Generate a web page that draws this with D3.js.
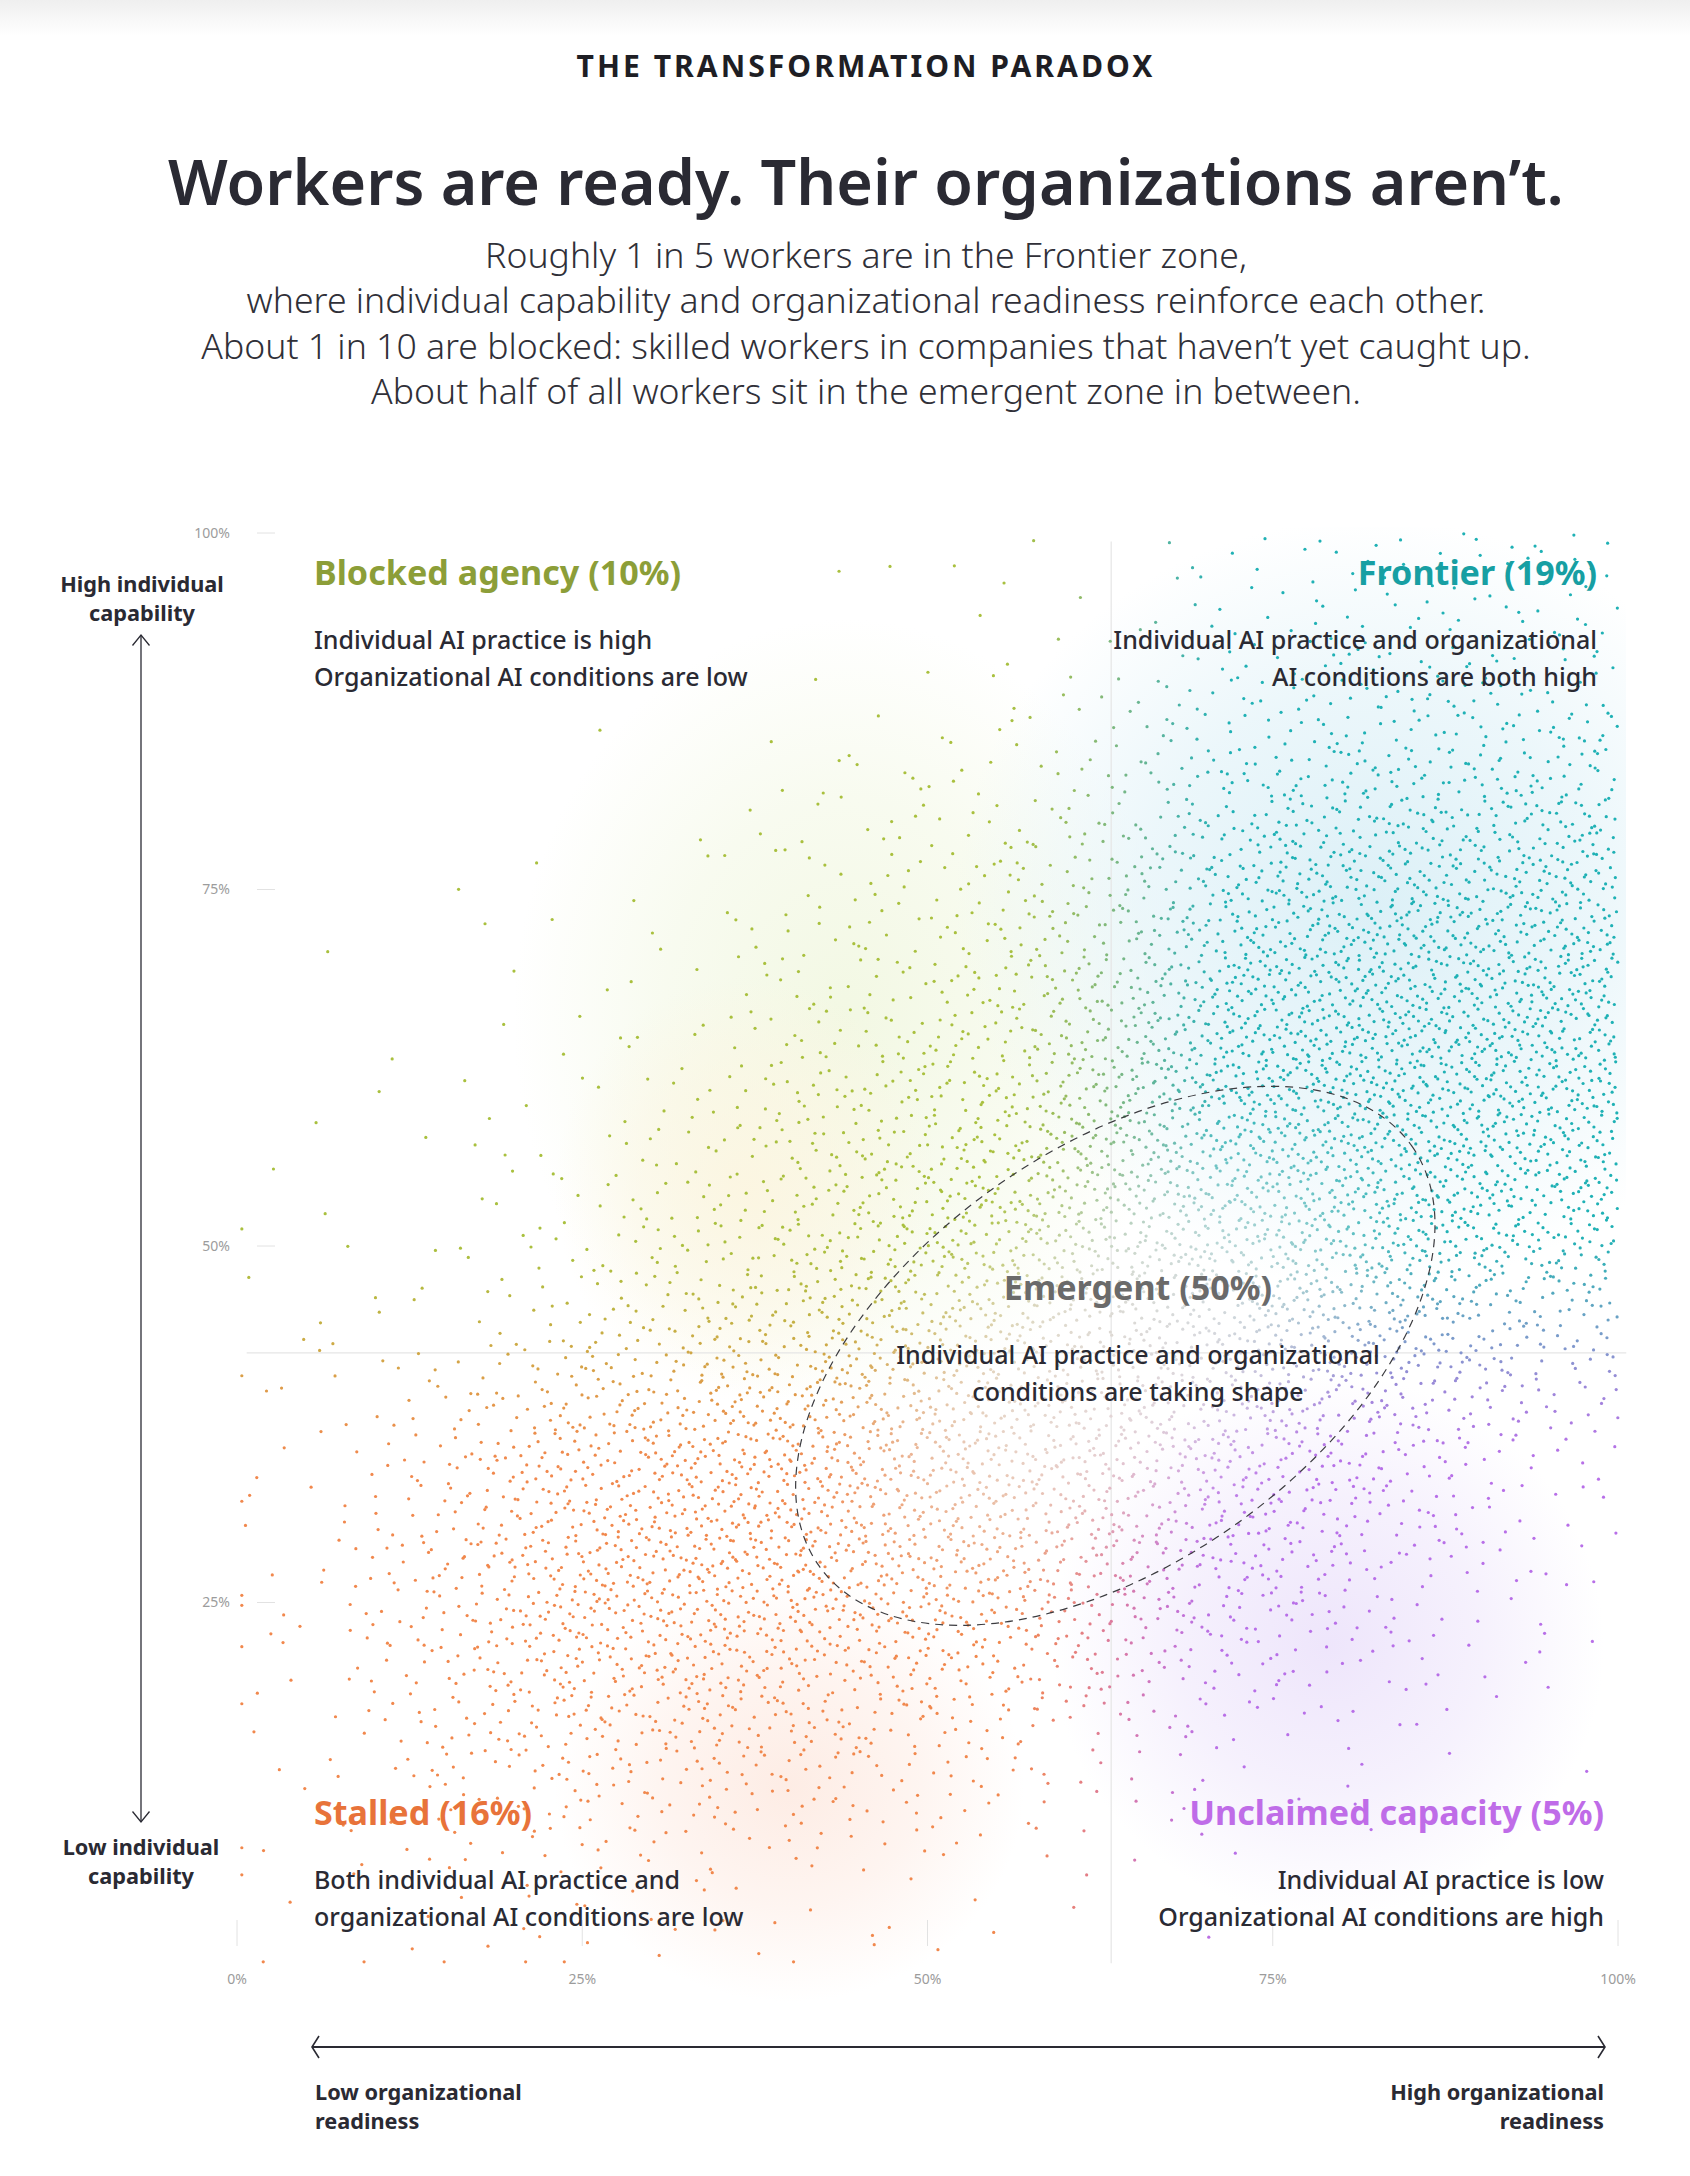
<!DOCTYPE html>
<html>
<head>
<meta charset="utf-8">
<script src="https://cdn.jsdelivr.net/npm/d3@7"></script>
<style>
  html, body { margin: 0; padding: 0; background: #fff; }
  svg { display: block; font-family: "Noto Sans", "Open Sans", sans-serif; }
</style>
</head>
<body>
<div id="chart"></div>
<script>
(function() {

  // ---- data ----
  var kicker = "THE TRANSFORMATION PARADOX";
  var title = "Workers are ready. Their organizations aren\u2019t.";
  var subtitleLines = [
    "Roughly 1 in 5 workers are in the Frontier zone,",
    "where individual capability and organizational readiness reinforce each other.",
    "About 1 in 10 are blocked: skilled workers in companies that haven\u2019t yet caught up.",
    "About half of all workers sit in the emergent zone in between."
  ];

  var xTicks = [0, 25, 50, 75, 100];
  var yTicks = [25, 50, 75, 100];

  // quadrant split (org readiness %, individual capability %)
  var splitX = 63.3, splitY = 42.5;

  var zoneKeys   = ["blocked", "frontier", "emergent", "stalled", "unclaimed"];
  var zoneNames  = ["Blocked agency", "Frontier", "Emergent", "Stalled", "Unclaimed capacity"];
  var zoneShares = [10, 19, 50, 16, 5];
  var zoneNotes  = [
    ["Individual AI practice is high", "Organizational AI conditions are low"],
    ["Individual AI practice and organizational", "AI conditions are both high"],
    ["Individual AI practice and organizational", "conditions are taking shape"],
    ["Both individual AI practice and", "organizational AI conditions are low"],
    ["Individual AI practice is low", "Organizational AI conditions are high"]
  ];

  // emergent zone outline: centre x, centre y, semi-axes (in x-axis points), tilt in degrees
  var emergentOutline = [63.6, 42.3, 26.3, 15.0, 35.3];

  // worker counts per 10% x 10% cell, read from the dot density.
  // one array per capability band (top band first), columns = org readiness 0-10 ... 90-100
  var band90 = [0, 0, 0, 0, 2, 3, 8, 25, 30, 30];
  var band80 = [0, 0, 0, 2, 8, 20, 40, 80, 90, 90];
  var band70 = [0, 2, 4, 10, 30, 55, 95, 190, 210, 200];
  var band60 = [0, 3, 8, 25, 65, 100, 160, 250, 260, 240];
  var band50 = [3, 6, 20, 55, 110, 160, 210, 250, 250, 220];
  var band40 = [4, 15, 55, 105, 155, 185, 200, 210, 185, 105];
  var band30 = [10, 60, 155, 205, 205, 200, 180, 150, 95, 28];
  var band20 = [12, 85, 195, 215, 195, 165, 125, 95, 45, 10];
  var band10 = [8, 55, 100, 100, 80, 45, 25, 15, 5, 1];
  var band00 = [4, 10, 15, 12, 8, 3, 2, 0, 0, 0];
  var grid = [band90, band80, band70, band60, band50, band40, band30, band20, band10, band00];

  // workers pinned on the plot edges (individual dots)
  var leftEdgeY   = [51.2, 40.9, 32.1, 25.5, 24.8, 21.9, 17.9, 7.8, 5.9];
  var bottomEdgeX = [1.9, 9.2, 15.0, 20.9, 23.7, 40.3];

  // ---- layout ----
  var W = 1690, H = 2176;
  var cx = 866;

  var dotColors = { blocked: "#a9c03e", frontier: "#1fb1b5", stalled: "#f1884d", unclaimed: "#b86fe8" };
  var labelColors = { blocked: "#8c9e38", frontier: "#179fa3", emergent: "#6a6a6a", stalled: "#e8733a", unclaimed: "#bf6ce8" };
  var ink = "#2a2a33";

  var svg = d3.select("#chart")
    .append("svg")
    .attr("width", W)
    .attr("height", H);

  var x = d3.scaleLinear().domain([0, 100]).range([237, 1618]);
  var y = d3.scaleLinear().domain([0, 100]).range([1959, 533]);

  var defs = svg.append("defs");

  // faint grey band at the very top
  var topGrad = defs.append("linearGradient").attr("id", "topband").attr("x1", 0).attr("x2", 0).attr("y1", 0).attr("y2", 1);
  topGrad.append("stop").attr("offset", "0%").attr("stop-color", "#efefef");
  topGrad.append("stop").attr("offset", "100%").attr("stop-color", "#ffffff");
  svg.append("rect").attr("x", 0).attr("y", 0).attr("width", W).attr("height", 36).attr("fill", "url(#topband)");

  // ---- header ----
  var kick = svg.append("text")
    .attr("x", cx).attr("y", 77)
    .attr("text-anchor", "middle")
    .attr("font-size", 27).attr("font-weight", 700)
    .attr("letter-spacing", 3)
    .attr("fill", "#1e1e24")
    .text(kicker);
  fitTo(kick, 588);

  var titleText = svg.append("text")
    .attr("x", cx).attr("y", 205)
    .attr("text-anchor", "middle")
    .attr("font-size", 64).attr("font-weight", 600)
    .attr("fill", ink)
    .text(title);
  fitTo(titleText, 1396);

  var sub = svg.append("g").attr("font-weight", 300).attr("fill", "#303038");
  sub.selectAll("text")
    .data(subtitleLines)
    .enter().append("text")
    .attr("x", cx)
    .attr("y", function(d, i) { return 268 + i * 45.3; })
    .attr("text-anchor", "middle")
    .attr("font-size", 32)
    .text(function(d) { return d; });
  var subSize = fitTo(sub.selectAll("text").filter(function(d, i) { return i === 1; }), 1239);
  sub.selectAll("text").attr("font-size", subSize);

  // ---- background glows (clipped to the plot box) ----
  defs.append("clipPath").attr("id", "plotclip")
    .append("rect").attr("x", 0).attr("y", y(100) - 6).attr("width", 1626).attr("height", H - y(100) + 6);

  var glows = [
    { id: "g-green",  cx: 44, cy: 66, rx: 24, ry: 28, color: "#f1f7e0", op: 0.9 },
    { id: "g-yellow", cx: 37, cy: 54, rx: 14, ry: 15, color: "#fcf5e0", op: 0.9 },
    { id: "g-teal",   cx: 82, cy: 74, rx: 30, ry: 27, color: "#dcf0f7", op: 1 },
    { id: "g-orange", cx: 40, cy: 12, rx: 17, ry: 15, color: "#fde9e0", op: 0.85 },
    { id: "g-purple", cx: 79, cy: 22, rx: 20, ry: 19, color: "#ede4fb", op: 0.95 }
  ];
  glows.forEach(function(g) {
    var rg = defs.append("radialGradient").attr("id", g.id);
    rg.append("stop").attr("offset", "0%").attr("stop-color", g.color).attr("stop-opacity", g.op);
    rg.append("stop").attr("offset", "55%").attr("stop-color", g.color).attr("stop-opacity", g.op * 0.55);
    rg.append("stop").attr("offset", "100%").attr("stop-color", g.color).attr("stop-opacity", 0);
  });
  svg.append("g")
    .attr("clip-path", "url(#plotclip)")
    .selectAll("ellipse")
    .data(glows)
    .enter().append("ellipse")
    .attr("cx", function(d) { return x(d.cx); })
    .attr("cy", function(d) { return y(d.cy); })
    .attr("rx", function(d) { return x(d.rx) - x(0); })
    .attr("ry", function(d) { return y(0) - y(d.ry); })
    .attr("fill", function(d) { return "url(#" + d.id + ")"; });

  // ---- quadrant dividers ----
  svg.append("line")
    .attr("x1", x(splitX)).attr("x2", x(splitX))
    .attr("y1", y(99.4)).attr("y2", y(-0.3))
    .attr("stroke", "#e6e6e6").attr("stroke-width", 1.2);
  svg.append("line")
    .attr("x1", x(0.7)).attr("x2", x(100.6))
    .attr("y1", y(splitY)).attr("y2", y(splitY))
    .attr("stroke", "#e6e6e6").attr("stroke-width", 1.2);

  // ---- ticks ----
  var tickColor = "#9c9c9c";
  var yAxis = svg.append("g");
  yAxis.selectAll("line")
    .data(yTicks)
    .enter().append("line")
    .attr("x1", 257).attr("x2", 275)
    .attr("y1", function(d) { return y(d); })
    .attr("y2", function(d) { return y(d); })
    .attr("stroke", "#e2e2e2");
  yAxis.selectAll("text")
    .data(yTicks)
    .enter().append("text")
    .attr("x", 230)
    .attr("y", function(d) { return y(d); })
    .attr("dy", "0.35em")
    .attr("text-anchor", "end")
    .attr("font-size", 14)
    .attr("fill", tickColor)
    .text(function(d) { return d + "%"; });

  var xAxis = svg.append("g");
  xAxis.selectAll("line")
    .data(xTicks)
    .enter().append("line")
    .attr("x1", function(d) { return x(d); })
    .attr("x2", function(d) { return x(d); })
    .attr("y1", 1920).attr("y2", 1946)
    .attr("stroke", "#e2e2e2");
  xAxis.selectAll("text")
    .data(xTicks)
    .enter().append("text")
    .attr("x", function(d) { return x(d); })
    .attr("y", 1984)
    .attr("text-anchor", "middle")
    .attr("font-size", 14)
    .attr("fill", tickColor)
    .text(function(d) { return d + "%"; });

  // ---- dots ----
  function density(px, py) {
    var gx = Math.max(0, Math.min(9, px / 10 - 0.5));
    var gy = Math.max(0, Math.min(9, (100 - py) / 10 - 0.5));
    var i0 = Math.floor(gx), j0 = Math.floor(gy);
    var i1 = Math.min(9, i0 + 1), j1 = Math.min(9, j0 + 1);
    var fx = gx - i0, fy = gy - j0;
    var top = grid[j0][i0] * (1 - fx) + grid[j0][i1] * fx;
    var bot = grid[j1][i0] * (1 - fx) + grid[j1][i1] * fx;
    return top * (1 - fy) + bot * fy;
  }

  function halton(i, b) {
    var f = 1, r = 0;
    while (i > 0) { f /= b; r += f * (i % b); i = Math.floor(i / b); }
    return r;
  }

  // spread each cell's count over the plot (deterministic stippling of the grid)
  var dMax = d3.max(grid, function(r) { return d3.max(r); });
  var points = [];
  for (var i = 1; i <= 100 * dMax; i++) {
    var px = halton(i, 2) * 100, py = halton(i, 3) * 100;
    if (halton(i, 7) * dMax < density(px, py)) points.push([px, py]);
  }
  leftEdgeY.forEach(function(v) { points.push([0.35, v]); });
  bottomEdgeX.forEach(function(v) { points.push([v, -0.2]); });

  function smooth(e0, e1, v) {
    var t = Math.max(0, Math.min(1, (v - e0) / (e1 - e0)));
    return t * t * (3 - 2 * t);
  }

  var ecx = x(emergentOutline[0]), ecy = y(emergentOutline[1]);
  var ea = x(emergentOutline[2]) - x(0), eb = x(emergentOutline[3]) - x(0);
  var eth = emergentOutline[4] * Math.PI / 180;

  function dotColor(d) {
    var tx = smooth(splitX - 9, splitX + 9, d[0]);
    var ty = smooth(splitY - 9, splitY + 9, d[1]);
    var top = d3.interpolateLab(dotColors.blocked, dotColors.frontier)(tx);
    var bot = d3.interpolateLab(dotColors.stalled, dotColors.unclaimed)(tx);
    var c = d3.interpolateLab(bot, top)(ty);
    var dx = x(d[0]) - ecx, dy = y(d[1]) - ecy;
    var u = (dx * Math.cos(eth) - dy * Math.sin(eth)) / ea;
    var v = (dx * Math.sin(eth) + dy * Math.cos(eth)) / eb;
    var r = Math.sqrt(u * u + v * v);
    var fade = 0.86 * (1 - smooth(0.25, 1.1, r));
    return d3.interpolateRgb(c, "#e6e2e0")(fade);
  }

  svg.append("g")
    .selectAll("circle")
    .data(points)
    .enter().append("circle")
    .attr("cx", function(d) { return x(d[0]); })
    .attr("cy", function(d) { return y(d[1]); })
    .attr("r", 1.6)
    .attr("fill", dotColor);

  // ---- emergent outline ----
  svg.append("ellipse")
    .attr("transform", "translate(" + ecx + "," + ecy + ") rotate(" + (-emergentOutline[4]) + ")")
    .attr("rx", ea).attr("ry", eb)
    .attr("fill", "none")
    .attr("stroke", "#3c3c40")
    .attr("stroke-width", 1.2)
    .attr("stroke-dasharray", "8,6");

  // ---- zone labels ----
  var zonePos = {
    blocked:   { x: 314,  y: 585,  anchor: "start" },
    frontier:  { x: 1597, y: 585,  anchor: "end" },
    emergent:  { x: 1138, y: 1300, anchor: "middle" },
    stalled:   { x: 314,  y: 1825, anchor: "start" },
    unclaimed: { x: 1604, y: 1825, anchor: "end" }
  };

  var zones = svg.append("g");
  var headSize = 33, noteSize = 23;
  zoneKeys.forEach(function(k, i) {
    var p = zonePos[k];
    zones.append("text")
      .attr("class", "zone-head")
      .attr("x", p.x).attr("y", p.y)
      .attr("text-anchor", p.anchor)
      .attr("font-size", headSize).attr("font-weight", 700)
      .attr("fill", labelColors[k])
      .text(zoneNames[i] + " (" + zoneShares[i] + "%)");
    zoneNotes[i].forEach(function(line, j) {
      zones.append("text")
        .attr("class", "zone-note")
        .attr("x", p.x).attr("y", p.y + 64 + j * 36.5)
        .attr("text-anchor", p.anchor)
        .attr("font-size", noteSize).attr("font-weight", 500)
        .attr("fill", ink)
        .text(line);
    });
  });
  var hs = fitTo(zones.selectAll(".zone-head").filter(function(d, i) { return i === 4; }), 415);
  zones.selectAll(".zone-head").attr("font-size", hs);
  var ns = fitTo(zones.selectAll(".zone-note").filter(function(d, i) { return i === 1; }), 434);
  zones.selectAll(".zone-note").attr("font-size", ns);

  // ---- axis arrows and labels ----
  var arrows = svg.append("g").attr("fill", "none").attr("stroke", ink);
  arrows.append("line").attr("x1", 141).attr("x2", 141).attr("y1", 635).attr("y2", 1822).attr("stroke-width", 1.3);
  arrows.append("path").attr("d", "M132.5,645.5L141,635L149.5,645.5").attr("stroke-width", 1.3);
  arrows.append("path").attr("d", "M132.5,1811.5L141,1822L149.5,1811.5").attr("stroke-width", 1.3);
  arrows.append("line").attr("x1", 312).attr("x2", 1605).attr("y1", 2047).attr("y2", 2047).attr("stroke-width", 2);
  arrows.append("path").attr("d", "M319,2036L312,2047L319,2058").attr("stroke-width", 1.6);
  arrows.append("path").attr("d", "M1598,2036L1605,2047L1598,2058").attr("stroke-width", 1.6);

  var axisLabels = [
    { lines: ["High individual", "capability"], x: 142, y: 592, anchor: "middle" },
    { lines: ["Low individual", "capability"], x: 141, y: 1855, anchor: "middle" },
    { lines: ["Low organizational", "readiness"], x: 315, y: 2100, anchor: "start" },
    { lines: ["High organizational", "readiness"], x: 1604, y: 2100, anchor: "end" }
  ];
  var al = svg.append("g").attr("font-weight", 700).attr("fill", ink);
  axisLabels.forEach(function(a) {
    a.lines.forEach(function(line, j) {
      al.append("text")
        .attr("x", a.x).attr("y", a.y + j * 28.5)
        .attr("text-anchor", a.anchor)
        .attr("font-size", 20)
        .text(line);
    });
  });
  var as = fitTo(al.selectAll("text").filter(function(d, i) { return i === 6; }), 214);
  al.selectAll("text").attr("font-size", as);

  function fitTo(sel, target) {
    var size = +sel.attr("font-size");
    var len = sel.node().getComputedTextLength();
    var s = size * target / len;
    sel.attr("font-size", s);
    return s;
  }

})();
</script>
</body>
</html>
